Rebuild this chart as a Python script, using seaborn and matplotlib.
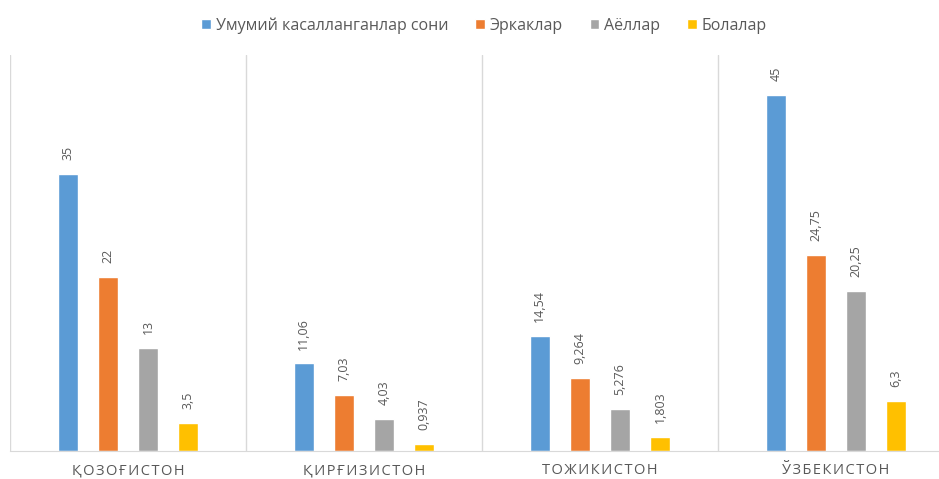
import pandas as pd
import matplotlib.pyplot as plt
import seaborn as sns

# Chart data
countries = ['ҚОЗОҒИСТОН', 'ҚИРҒИЗИСТОН', 'ТОЖИКИСТОН', 'ЎЗБЕКИСТОН']
series = ['Умумий касалланганлар сони', 'Эркаклар', 'Аёллар', 'Болалар']
total = [35, 11.06, 14.54, 45]
men = [22, 7.03, 9.264, 24.75]
women = [13, 4.03, 5.276, 20.25]
children = [3.5, 0.937, 1.803, 6.3]
colors = ['#5B9BD5', '#ED7D31', '#A5A5A5', '#FFC000']

rows = []
for name, vals in zip(series, [total, men, women, children]):
    for c, v in zip(countries, vals):
        rows.append({'country': c, 'series': name, 'value': v})
df = pd.DataFrame(rows)

sns.set_style('white')
plt.rcParams['font.family'] = ['Open Sans', 'DejaVu Sans']

fig = plt.figure(figsize=(9.39, 4.79), dpi=100)
ax = fig.add_axes([10 / 939, 1 - 451 / 479, 944 / 939, 396 / 479])

sns.barplot(data=df, x='country', y='value', hue='series', palette=colors,
            saturation=1, width=0.68, gap=0.5, ax=ax, legend=True)

# Value labels above bars, decimal comma
for cont in ax.containers:
    labels = [f"{b.get_height():g}".replace('.', ',') for b in cont]
    ax.bar_label(cont, labels=labels, rotation=90, padding=10,
                 color='#595959', fontsize=9)

ax.set_ylim(0, 50)
ax.set_xlim(-0.5, 3.5)
ax.set_yticks([])
ax.set_xlabel('')
ax.set_ylabel('')

# Category separators
ax.set_xticks([-0.5, 0.5, 1.5, 2.5, 3.5], minor=True)
ax.grid(axis='x', which='minor', color='#D9D9D9', linewidth=1)
ax.tick_params(axis='x', which='both', length=0)
ax.set_xticks(range(len(countries)))
ax.set_xticklabels(['\u200a'.join(c) for c in countries], color='#595959', fontsize=10.5)
ax.tick_params(axis='x', pad=9)

for s in ['top', 'left', 'right']:
    ax.spines[s].set_visible(False)
ax.spines['bottom'].set_color('#D9D9D9')

ax.legend(loc='upper center', bbox_to_anchor=(474 / 944, 1 + 52 / 396), ncol=4,
          frameon=False, fontsize=11.5, handlelength=0.6, handleheight=0.6,
          handletextpad=0.3, columnspacing=1.7, labelcolor='#595959')

fig.savefig('out.png', dpi=100)
